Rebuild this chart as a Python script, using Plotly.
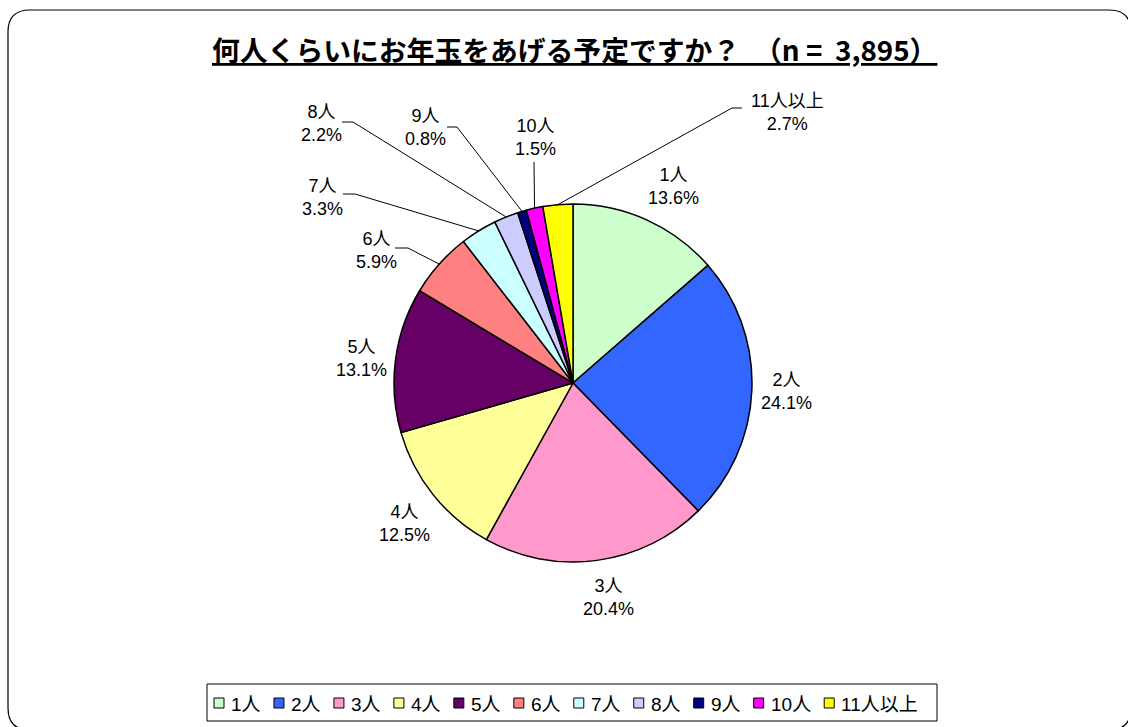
import math
import plotly.graph_objects as go

# ---------------- data ----------------
categories = ["1人", "2人", "3人", "4人", "5人", "6人", "7人", "8人", "9人", "10人", "11人以上"]
percent = [13.6, 24.1, 20.4, 12.5, 13.1, 5.9, 3.3, 2.2, 0.8, 1.5, 2.7]
slice_colors = ["#CCFFCC", "#3366FF", "#FF99CC", "#FFFF99", "#660066", "#FF8080",
                "#CCFFFF", "#CCCCFF", "#000080", "#FF00FF", "#FFFF00"]
title_text = "何人くらいにお年玉をあげる予定ですか？\u3000（n\u00a0=\u00a0\u00a03,895）"

# ---------------- layout constants (pixels) ----------------
W, H = 1128, 727
CX, CY, R = 573, 383, 179
# label block centres
label_pos = [(673, 186), (786, 391), (608, 597), (404, 523), (361, 358), (376, 250),
             (322, 197), (321, 123), (425, 128), (535, 137), (787, 112)]
# leader lines: (start, elbow) or None; end point is the slice edge at mid-angle
leaders = [None, None, None, None, None,
           ((395, 248), (408, 248)),
           ((343, 194), (355, 194)),
           ((342, 122), (353, 122)),
           ((447, 127), (457, 127)),
           ((534, 162), (534, 162)),
           ((742, 108), (732, 108))]

FONT = "Liberation Sans, Arial, Noto Sans CJK JP, sans-serif"
CJK_BOLD = "Noto Sans CJK JP, sans-serif"
LABEL_SIZE = 18
LEGEND_SIZE = 19


def px(x):
    return x / W


def py(y):
    return 1 - y / H


fig = go.Figure()
fig.add_trace(go.Pie(
    labels=categories,
    values=percent,
    sort=False,
    direction="clockwise",
    rotation=0,
    textinfo="none",
    hoverinfo="label+percent",
    showlegend=False,
    marker=dict(colors=slice_colors, line=dict(color="black", width=1.5)),
    domain=dict(x=[px(CX - R), px(CX + R)], y=[py(CY + R), py(CY - R)]),
))

annotations = []
shapes = []

# slice labels + leaders
total = sum(percent)
cum = 0.0
for i, (cat, v) in enumerate(zip(categories, percent)):
    mid = (cum + v / 2) / total * 2 * math.pi
    cum += v
    lx, ly = label_pos[i]
    annotations.append(dict(
        x=px(lx), y=py(ly), xref="paper", yref="paper",
        text=f"{cat}<br>{v:.1f}%", showarrow=False,
        font=dict(family=FONT, size=LABEL_SIZE, color="black"),
        xanchor="center", yanchor="middle", align="center",
    ))
    if leaders[i] is not None:
        (sx, sy), (ex, ey) = leaders[i]
        tx = CX + R * math.sin(mid)
        ty = CY - R * math.cos(mid)
        if (sx, sy) != (ex, ey):
            shapes.append(dict(type="line", xref="paper", yref="paper",
                               x0=px(sx), y0=py(sy), x1=px(ex), y1=py(ey),
                               line=dict(color="black", width=1)))
        shapes.append(dict(type="line", xref="paper", yref="paper",
                           x0=px(ex), y0=py(ey), x1=px(tx), y1=py(ty),
                           line=dict(color="black", width=1)))

# title
annotations.append(dict(
    x=px(574), y=py(49), xref="paper", yref="paper",
    text=f"<b><u>{title_text}</u></b>", showarrow=False,
    font=dict(family=CJK_BOLD, size=27.8, color="black"),
    xanchor="center", yanchor="middle",
))

# custom legend (box + colour squares + names)
LEG_BOX = (207, 684, 937, 721)
LEG_X0, LEG_Y, SQ, GAP_TXT, GAP_ITEM = 214, 703, 10, 5, 15.4
shapes.append(dict(type="rect", xref="paper", yref="paper",
                   x0=px(LEG_BOX[0]), y0=py(LEG_BOX[1]), x1=px(LEG_BOX[2]), y1=py(LEG_BOX[3]),
                   line=dict(color="black", width=1), fillcolor="white", layer="below"))


def text_w(s, fs):
    return sum(0.556 * fs if c.isascii() else fs for c in s)


x = LEG_X0
for cat, col in zip(categories, slice_colors):
    shapes.append(dict(type="rect", xref="paper", yref="paper",
                       x0=px(x), y0=py(LEG_Y + SQ / 2), x1=px(x + SQ), y1=py(LEG_Y - SQ / 2),
                       line=dict(color="black", width=1), fillcolor=col))
    annotations.append(dict(
        x=px(x + SQ + GAP_TXT), y=py(LEG_Y + 1), xref="paper", yref="paper",
        text=cat, showarrow=False, xanchor="left", yanchor="middle",
        font=dict(family=FONT, size=LEGEND_SIZE, color="black"),
    ))
    x += SQ + GAP_TXT + text_w(cat, LEGEND_SIZE) + GAP_ITEM

# rounded outer frame
x0, y0, x1, y1, r = 8, 10, 1131, 730, 22
path = (f"M {px(x0)},{py(y0 + r)} Q {px(x0)},{py(y0)} {px(x0 + r)},{py(y0)} "
        f"L {px(x1 - r)},{py(y0)} Q {px(x1)},{py(y0)} {px(x1)},{py(y0 + r)} "
        f"L {px(x1)},{py(y1 - r)} Q {px(x1)},{py(y1)} {px(x1 - r)},{py(y1)} "
        f"L {px(x0 + r)},{py(y1)} Q {px(x0)},{py(y1)} {px(x0)},{py(y1 - r)} Z")
shapes.append(dict(type="path", xref="paper", yref="paper", path=path,
                   line=dict(color="black", width=1.2), fillcolor="rgba(0,0,0,0)"))

fig.update_layout(
    width=W, height=H,
    margin=dict(l=0, r=0, t=0, b=0, autoexpand=False),
    paper_bgcolor="white", plot_bgcolor="white",
    annotations=annotations,
    shapes=shapes,
    showlegend=False,
)

fig.write_html("out.html", config={"displayModeBar": False},
               post_script="document.body.style.margin='0';")
